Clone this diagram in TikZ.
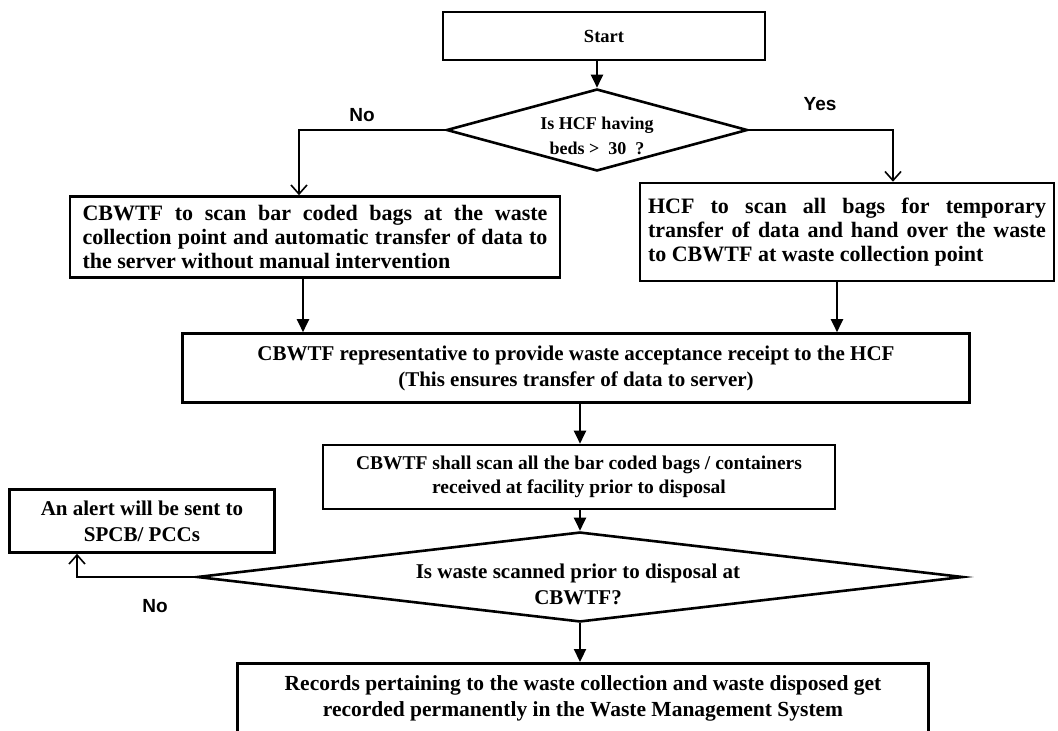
\documentclass[tikz,border=0pt]{standalone}
\usepackage{fontspec}
\setmainfont{Liberation Serif}
\newfontfamily\answerfont{Liberation Sans}
\usetikzlibrary{shapes.geometric,arrows.meta}

\begin{document}
\begin{tikzpicture}[x=1pt, y=-1pt,
    box/.style={draw, line width=2.6pt, inner sep=0pt, align=center, font=\bfseries},
    decide/.style={draw, diamond, line width=2.6pt, inner sep=0pt},
    question/.style={align=center, inner sep=0pt},
    flow/.style={line width=2.2pt, -{Triangle[length=13pt, width=12pt]}},
    openflow/.style={line width=1.8pt, -{Straight Barb[length=9pt, width=16pt, line width=1.6pt]}},
    answer/.style={font=\answerfont\bfseries\fontsize{19}{22}\selectfont}]
  \useasboundingbox (0,0) rectangle (1058,731);

  \node[box, minimum width=322pt, minimum height=48pt, font=\bfseries\fontsize{18.5}{22}\selectfont] (start) at (604,36) {Start};
  \node[decide, minimum width=301pt, minimum height=82pt] (bedcheck) at (597,130) {};
  \node[question, font=\bfseries\fontsize{18}{25}\selectfont] (bedtext) at (597,136) {Is HCF having\\beds >\ \ 30\ \ ?};

  \node[box, minimum width=490pt, minimum height=81pt, text width=465pt, align=justify, font=\bfseries\fontsize{22}{24}\selectfont] (cbwtfscan) at (315,237)
    {CBWTF to scan bar coded bags at the waste\linebreak collection point and automatic transfer of data to\linebreak the server without manual intervention};
  \node[box, minimum width=414pt, minimum height=98pt, text width=398pt, align=justify, font=\bfseries\fontsize{22}{24}\selectfont] (hcfscan) at (847,232)
    {HCF to scan all bags for temporary\linebreak transfer of data and hand over the waste\linebreak to CBWTF at waste collection point};

  \node[box, minimum width=787pt, minimum height=69pt, font=\bfseries\fontsize{21}{26}\selectfont] (receipt) at (576,368)
    {CBWTF representative to provide waste acceptance receipt to the HCF\\(This ensures transfer of data to server)};
  \node[box, minimum width=512pt, minimum height=64pt, font=\bfseries\fontsize{19.5}{24}\selectfont] (facscan) at (579,477)
    {CBWTF shall scan all the bar coded bags / containers\\received at facility prior to disposal};

  \node[decide, minimum width=766pt, minimum height=90pt] (scancheck) at (580,577) {};
  \node[question, font=\bfseries\fontsize{21}{26}\selectfont] (scantext) at (578,584) {Is waste scanned prior to disposal at\\CBWTF?};
  \node[box, minimum width=265pt, minimum height=63pt, font=\bfseries\fontsize{21}{26}\selectfont] (alert) at (142,521)
    {An alert will be sent to\\SPCB/ PCCs};
  \node[box, anchor=north, minimum width=691pt, inner ysep=12pt, font=\bfseries\fontsize{21.5}{26}\selectfont] (records) at (583,662)
    {Records pertaining to the waste collection and waste disposed get\\recorded permanently in the Waste Management System};

  \node[answer] (nofirst) at (362,115) {No};
  \node[answer] (yesfirst) at (820,104) {Yes};
  \node[answer] (nosecond) at (155,606) {No};

  \draw[flow] (start.south -| bedcheck.north) -- (bedcheck.north);
  \draw[openflow] (bedcheck.west) -| ([xshift=-16pt]cbwtfscan.north);
  \draw[openflow] (bedcheck.east) -| ([xshift=46pt]hcfscan.north);
  \draw[flow] ([xshift=-12pt]cbwtfscan.south) -- ([xshift=-12pt]cbwtfscan.south |- receipt.north);
  \draw[flow] ([xshift=-10pt]hcfscan.south) -- ([xshift=-10pt]hcfscan.south |- receipt.north);
  \draw[flow] (receipt.south -| scancheck.north) -- (facscan.north -| scancheck.north);
  \draw[flow] (facscan.south -| scancheck.north) -- (scancheck.north);
  \draw[openflow] (scancheck.west) -| ([xshift=-65pt]alert.south);
  \draw[flow] (scancheck.south) -- (scancheck.south |- records.north);
\end{tikzpicture}
\end{document}
